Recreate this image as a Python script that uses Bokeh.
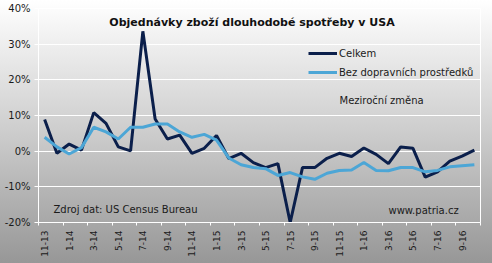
import numpy as np
from bokeh.plotting import figure
from bokeh.models import (FixedTicker, PrintfTickFormatter, Label, Legend,
                          LegendItem, Range1d, ColumnDataSource)
from bokeh.embed import file_html
from bokeh.resources import INLINE

# ---- data ----
months = ["11-13", "12-13", "1-14", "2-14", "3-14", "4-14", "5-14", "6-14",
          "7-14", "8-14", "9-14", "10-14", "11-14", "12-14", "1-15", "2-15",
          "3-15", "4-15", "5-15", "6-15", "7-15", "8-15", "9-15", "10-15",
          "11-15", "12-15", "1-16", "2-16", "3-16", "4-16", "5-16", "6-16",
          "7-16", "8-16", "9-16", "10-16"]
celkem = [8.9, -0.6, 2.0, 0.3, 10.8, 7.8, 1.2, 0.1, 33.6, 9.0, 3.4, 4.5,
          -0.6, 0.8, 4.4, -2.1, -0.6, -3.2, -4.6, -3.5, -20.0, -4.6, -4.6, -2.0,
          -0.6, -1.5, 0.9, -0.9, -3.5, 1.2, 0.8, -7.3, -5.8, -2.8, -1.4, 0.3]
bez = [3.9, 1.2, -0.8, 1.0, 6.7, 5.4, 3.4, 6.7, 6.7, 7.6, 7.6, 5.4,
       3.9, 4.7, 3.1, -1.9, -3.8, -4.6, -4.9, -6.8, -6.0, -7.2, -7.9, -6.2,
       -5.4, -5.3, -3.2, -5.4, -5.5, -4.6, -4.6, -5.8, -5.4, -4.4, -4.1, -3.8]
tick_labels = ["11-13", "1-14", "3-14", "5-14", "7-14", "9-14", "11-14",
               "1-15", "3-15", "5-15", "7-15", "9-15", "11-15", "1-16",
               "3-16", "5-16", "7-16", "9-16"]
y_ticks = [-20, -10, 0, 10, 20, 30, 40]

FONT = "DejaVu Sans"
TXT = "#1a1a1a"

x = np.arange(len(months))
src = ColumnDataSource(dict(x=x, celkem=celkem, bez=bez))

p = figure(width=492, height=263, output_backend="svg", toolbar_location=None,
           x_range=Range1d(-0.5, len(months) - 0.5), y_range=Range1d(-20, 40),
           min_border_left=38, min_border_right=12, min_border_top=8,
           min_border_bottom=41)
p.background_fill_alpha = 0
p.border_fill_alpha = 0
p.styles = {"background": "linear-gradient(to bottom, #ffffff 0%, #cdcdcd 50%, #979797 100%)"}
p.outline_line_color = "white"
p.outline_line_width = 1

# x axis
tick_pos = [i for i in range(0, len(months), 2)]
p.xaxis.ticker = FixedTicker(ticks=tick_pos,
                             minor_ticks=list(np.arange(-0.5, len(months), 2.0)))
p.xaxis.major_label_overrides = {tp: lab for tp, lab in zip(tick_pos, tick_labels)}
p.xaxis.major_label_orientation = np.pi / 2
p.xaxis.major_tick_out = 0
p.xaxis.major_tick_in = 0
p.xaxis.minor_tick_out = 3
p.xaxis.minor_tick_in = 0
p.xaxis.minor_tick_line_color = "white"
p.xaxis.axis_line_color = "white"
p.xaxis.major_label_standoff = 5
p.xaxis.major_label_text_font = FONT
p.xaxis.major_label_text_font_size = "9px"
p.xaxis.major_label_text_color = TXT
p.xgrid.visible = False

# y axis
p.yaxis.ticker = FixedTicker(ticks=y_ticks)
p.yaxis.formatter = PrintfTickFormatter(format="%d%%")
p.yaxis.major_tick_out = 4
p.yaxis.major_tick_in = 0
p.yaxis.minor_tick_line_color = None
p.yaxis.major_tick_line_color = "white"
p.yaxis.axis_line_color = "white"
p.yaxis.major_label_standoff = 4
p.yaxis.major_label_text_font = FONT
p.yaxis.major_label_text_font_size = "10px"
p.yaxis.major_label_text_color = TXT
p.ygrid.ticker = FixedTicker(ticks=y_ticks)
p.ygrid.grid_line_color = "white"
p.ygrid.grid_line_width = 1

r1 = p.line("x", "celkem", source=src, line_color="#0b1f4b", line_width=3)
r2 = p.line("x", "bez", source=src, line_color="#4ca6d6", line_width=3)

legend = Legend(items=[LegendItem(label="Celkem", renderers=[r1]),
                       LegendItem(label="Bez dopravních prostředků", renderers=[r2])],
                location=(270, 143), orientation="vertical",
                background_fill_alpha=0, border_line_alpha=0,
                padding=0, margin=0, spacing=5, glyph_width=29, glyph_height=14,
                label_height=14, label_standoff=2,
                label_text_font=FONT, label_text_font_size="10px",
                label_text_color=TXT)
p.add_layout(legend)

p.add_layout(Label(x=213.5, y=200, x_units="screen", y_units="screen",
                   text="Objednávky zboží dlouhodobé spotřeby v USA",
                   text_align="center", text_baseline="middle",
                   text_font=FONT, text_font_style="bold",
                   text_font_size="11px", text_color="#111111"))
p.add_layout(Label(x=301, y=122, x_units="screen", y_units="screen",
                   text="Meziroční změna", text_align="left",
                   text_baseline="middle", text_font=FONT,
                   text_font_size="10px", text_color=TXT))
p.add_layout(Label(x=15, y=13, x_units="screen", y_units="screen",
                   text="Zdroj dat: US Census Bureau", text_align="left",
                   text_baseline="middle", text_font=FONT,
                   text_font_size="10px", text_color=TXT))
p.add_layout(Label(x=350, y=12, x_units="screen", y_units="screen",
                   text="www.patria.cz", text_align="left",
                   text_baseline="middle", text_font=FONT,
                   text_font_size="10px", text_color=TXT))

open("out.html", "w").write(file_html(p, INLINE))
